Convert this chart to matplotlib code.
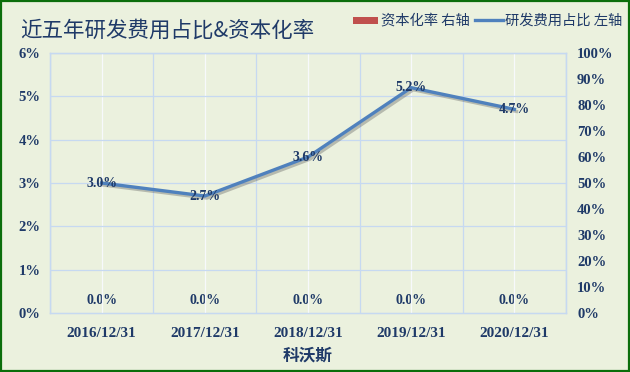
import matplotlib
matplotlib.use("Agg")
import matplotlib.pyplot as plt
import matplotlib.patheffects as pe
from matplotlib.patches import Rectangle
from matplotlib.ticker import FuncFormatter, MultipleLocator

# data
dates = ["2016/12/31", "2017/12/31", "2018/12/31", "2019/12/31", "2020/12/31"]
rd_ratio = [3.0, 2.7, 3.6, 5.2, 4.7]          # 研发费用占比 (%), left axis
cap_rate = [0.0, 0.0, 0.0, 0.0, 0.0]          # 资本化率 (%), right axis
company = "科沃斯"
title = "近五年研发费用占比&资本化率"

bg = "#EBF1DE"
navy = "#1F3A68"
line_blue = "#4F81BD"
bar_red = "#C0504D"
grid_blue = "#C6D9F1"
cjk = ["Noto Sans CJK SC", "DejaVu Sans"]
serif = "Liberation Serif"

fig = plt.figure(figsize=(6.3, 3.72), dpi=100, facecolor=bg)
ax = fig.add_axes([0.0794, 0.1586, 0.8190, 0.6989])
ax.set_facecolor(bg)
ax2 = ax.twinx()

x = list(range(len(dates)))

# grid: blue at category boundaries, white at category centres
for i in range(len(dates) + 1):
    ax.axvline(i - 0.5, color=grid_blue, lw=0.9, zorder=0)
for i in x:
    ax.axvline(i, color="#F7F9FC", lw=0.9, zorder=0)
for v in range(1, 7):
    ax.axhline(v, color=grid_blue, lw=0.9, zorder=0)

# capitalisation rate bars (right axis)
bars = ax2.bar(x, cap_rate, width=0.5, color=bar_red, zorder=2)
for xi, v in zip(x, cap_rate):
    ax2.annotate("%.1f%%" % v, (xi, v), xytext=(0, 8.8), textcoords="offset points",
                 ha="center", va="center", color=navy, fontsize=10,
                 family=serif, fontweight="bold")

# R&D ratio line (left axis)
ax.set_zorder(ax2.get_zorder() + 1)
ax.patch.set_visible(False)
ax2.patch.set_visible(False)
ax.plot(x, rd_ratio, color=line_blue, lw=2.4, zorder=3, solid_joinstyle="round",
        path_effects=[pe.SimpleLineShadow(offset=(1.5, -1.5), shadow_color="#555555", alpha=0.35),
                      pe.Normal()])
for xi, v in zip(x, rd_ratio):
    ax.text(xi, v, "%.1f%%" % v, ha="center", va="center", color=navy, fontsize=10,
            family=serif, fontweight="bold", zorder=4)

ax.set_xlim(-0.5, len(dates) - 0.5)
ax.set_ylim(0, 6)
ax2.set_ylim(0, 100)
ax.yaxis.set_major_locator(MultipleLocator(1))
ax2.yaxis.set_major_locator(MultipleLocator(10))
ax.yaxis.set_major_formatter(FuncFormatter(lambda v, p: "%d%%" % v))
ax2.yaxis.set_major_formatter(FuncFormatter(lambda v, p: "%d%%" % v))

ax.set_xticks(x)
ax.set_xticklabels(dates)
for a in (ax, ax2):
    a.tick_params(length=0, colors=navy)
    for s in a.spines.values():
        s.set_color(grid_blue)
        s.set_linewidth(0.9)
for lab in ax.get_yticklabels() + ax2.get_yticklabels():
    lab.set_family(serif)
    lab.set_fontweight("bold")
    lab.set_fontsize(10.5)
for lab in ax.get_xticklabels():
    lab.set_family(serif)
    lab.set_fontweight("bold")
    lab.set_fontsize(11)
ax.tick_params(axis="y", pad=7)
ax2.tick_params(axis="y", pad=8)
ax.tick_params(axis="x", pad=10)

ax.set_xlabel(company, family=cjk, fontweight="bold", fontsize=12, color=navy, labelpad=5)

fig.text(0.032, 0.918, title, family=cjk, fontsize=15.5, color=navy, va="center", ha="left")

# legend drawn by hand at top right
fig.patches.append(Rectangle((0.561, 0.935), 0.039, 0.02, transform=fig.transFigure,
                             facecolor=bar_red, edgecolor="none"))
fig.text(0.604, 0.945, "资本化率 右轴", family=cjk, fontsize=10.3, color=navy, va="center")
fig.lines.append(plt.Line2D([0.754, 0.798], [0.945, 0.945], transform=fig.transFigure,
                            color=line_blue, lw=2.4))
fig.text(0.802, 0.945, "研发费用占比 左轴", family=cjk, fontsize=10.3, color=navy, va="center")

# outer frame
fig.patches.append(Rectangle((0.0016, 0.0027), 0.9968, 0.9946, transform=fig.transFigure,
                             facecolor="none", edgecolor="#0B6E0B", lw=1.6))

fig.savefig("out.png", dpi=100, facecolor=bg)
